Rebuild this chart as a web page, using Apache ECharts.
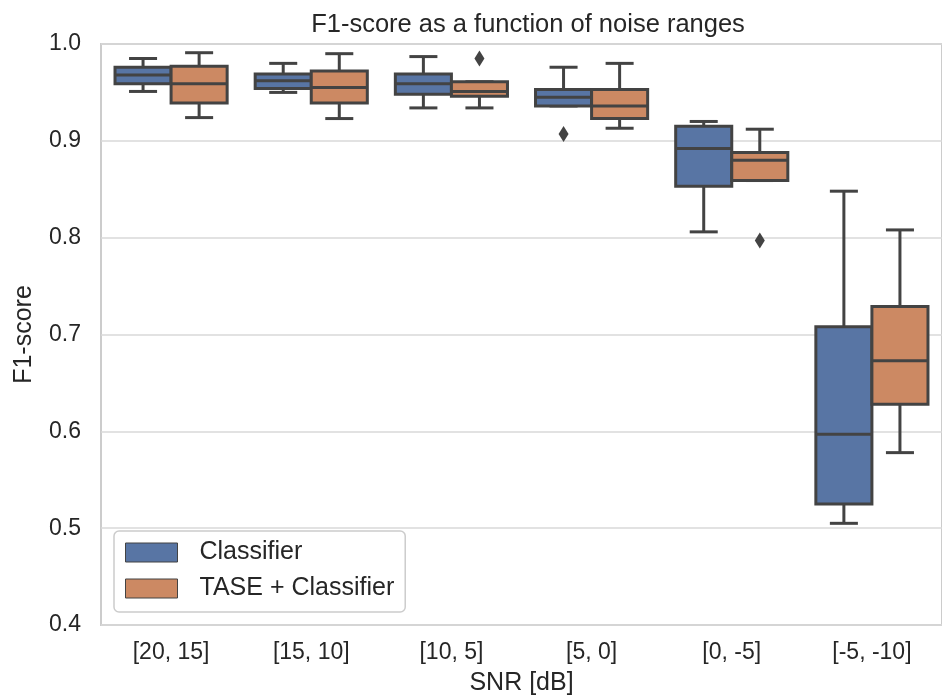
<!DOCTYPE html>
<html>
<head>
<meta charset="utf-8">
<script src="https://cdn.jsdelivr.net/npm/echarts@6/dist/echarts.min.js"></script>
<style>
  html, body { margin: 0; padding: 0; background: #fff; }
  #box { width: 942px; height: 698px; }
</style>
</head>
<body>
<div id="box"></div>
<script>
// NOTE - categories and box stats [min, q1, median, q3, max]
const ranges = ['[20, 15]', '[15, 10]', '[10, 5]', '[5, 0]', '[0, -5]', '[-5, -10]']
const classifierBoxes = [
    [0.951, 0.959, 0.968, 0.976, 0.985],
    [0.950, 0.954, 0.962, 0.969, 0.980],
    [0.934, 0.948, 0.959, 0.969, 0.987],
    [0.936, 0.936, 0.945, 0.953, 0.976],
    [0.806, 0.853, 0.892, 0.915, 0.920],
    [0.505, 0.525, 0.597, 0.708, 0.848]
]
const taseBoxes = [
    [0.924, 0.939, 0.959, 0.977, 0.991],
    [0.923, 0.939, 0.955, 0.972, 0.990],
    [0.934, 0.946, 0.951, 0.961, 0.961],
    [0.913, 0.923, 0.936, 0.953, 0.980],
    [0.859, 0.859, 0.880, 0.888, 0.912],
    [0.578, 0.628, 0.673, 0.729, 0.808]
]
// outliers: [category index, value]
const classifierOutliers = [[3, 0.907]]
const taseOutliers = [[2, 0.985], [4, 0.797]]
const yTicks = [0.4, 0.5, 0.6, 0.7, 0.8, 0.9, 1.0]

const blue = '#5875a4'
const orange = '#cc8963'
const edge = '#434343'
const font = "'Liberation Sans', Arial, sans-serif"

// NOTE - one box drawn from the axis scales
const boxRenderer = (shift, fill) => (params, api) => {
    const i = api.value(0)
    const band = api.size([1, 0])[0]
    const w = band * 0.4
    const cx = api.coord([i, 0])[0] + shift * band
    const y = k => api.coord([i, api.value(k)])[1]
    const lo = y(1), q1 = y(2), med = y(3), q3 = y(4), hi = y(5)
    const line = { stroke: edge, lineWidth: 3 }
    const cap = w / 4
    return {
        type: 'group',
        children: [
            { type: 'line', shape: { x1: cx, y1: q1, x2: cx, y2: lo }, style: line },
            { type: 'line', shape: { x1: cx, y1: q3, x2: cx, y2: hi }, style: line },
            { type: 'line', shape: { x1: cx - cap, y1: lo, x2: cx + cap, y2: lo }, style: line },
            { type: 'line', shape: { x1: cx - cap, y1: hi, x2: cx + cap, y2: hi }, style: line },
            { type: 'rect', shape: { x: cx - w / 2, y: q3, width: w, height: q1 - q3 }, style: { fill: fill, stroke: edge, lineWidth: 3 } },
            { type: 'line', shape: { x1: cx - w / 2, y1: med, x2: cx + w / 2, y2: med }, style: line }
        ]
    }
}

// NOTE - diamond outlier
const outlierRenderer = shift => (params, api) => {
    const i = api.value(0)
    const band = api.size([1, 0])[0]
    const p = api.coord([i, api.value(1)])
    const cx = p[0] + shift * band
    const cy = p[1]
    return {
        type: 'polygon',
        shape: { points: [[cx, cy - 8], [cx + 5, cy], [cx, cy + 8], [cx - 5, cy]] },
        style: { fill: edge }
    }
}

const myChart = echarts.init(document.querySelector('#box'))
const option = {
    backgroundColor: '#fff',
    animation: false,
    textStyle: { fontFamily: font },
    title: {
        text: 'F1-score as a function of noise ranges',
        left: 523,
        textAlign: 'center',
        top: 7,
        textStyle: { fontSize: 25.5, fontWeight: 'normal', color: '#262626', fontFamily: font }
    },
    grid: {
        left: 101,
        right: 0,
        top: 44,
        bottom: 73,
        outerBoundsMode: 'none',
        show: true,
        borderColor: '#cccccc',
        borderWidth: 2
    },
    legend: {
        orient: 'vertical',
        left: 114,
        top: 531,
        padding: [9, 11, 11, 11],
        itemWidth: 52,
        itemHeight: 19,
        itemGap: 11,
        borderColor: '#cccccc',
        borderWidth: 1.5,
        borderRadius: 5,
        backgroundColor: 'rgba(255,255,255,0.85)',
        textStyle: { fontSize: 25, lineHeight: 22, color: '#262626', fontFamily: font, padding: [0, 0, 0, 17] },
        data: [
            { name: 'Classifier', icon: 'rect', itemStyle: { color: blue, borderColor: edge, borderWidth: 1 } },
            { name: 'TASE + Classifier', icon: 'rect', itemStyle: { color: orange, borderColor: edge, borderWidth: 1 } }
        ]
    },
    xAxis: {
        type: 'category',
        data: ranges,
        name: 'SNR [dB]',
        nameLocation: 'middle',
        nameGap: 46,
        nameTextStyle: { fontSize: 25, color: '#262626' },
        axisLine: { show: false },
        axisTick: { show: false },
        axisLabel: { fontSize: 23, color: '#262626', margin: 16 },
        splitLine: { show: false }
    },
    yAxis: {
        type: 'value',
        min: yTicks[0],
        max: yTicks[yTicks.length - 1],
        interval: 0.1,
        name: 'F1-score',
        nameLocation: 'middle',
        nameGap: 64,
        nameTextStyle: { fontSize: 25, color: '#262626' },
        axisLine: { show: false },
        axisTick: { show: false },
        axisLabel: { fontSize: 23, color: '#262626', margin: 20, formatter: v => v.toFixed(1) },
        splitLine: { lineStyle: { color: '#d9d9d9', width: 1.5 } }
    },
    series: [
        {
            name: 'Classifier',
            type: 'custom',
            itemStyle: { color: blue },
            renderItem: boxRenderer(-0.2, blue),
            encode: { x: 0, y: [1, 2, 3, 4, 5] },
            data: classifierBoxes.map((b, i) => [i, ...b]),
            z: 3
        },
        {
            name: 'TASE + Classifier',
            type: 'custom',
            itemStyle: { color: orange },
            renderItem: boxRenderer(0.2, orange),
            encode: { x: 0, y: [1, 2, 3, 4, 5] },
            data: taseBoxes.map((b, i) => [i, ...b]),
            z: 3
        },
        {
            name: 'Classifier outliers',
            type: 'custom',
            renderItem: outlierRenderer(-0.2),
            encode: { x: 0, y: 1 },
            data: classifierOutliers,
            z: 3
        },
        {
            name: 'TASE outliers',
            type: 'custom',
            renderItem: outlierRenderer(0.2),
            encode: { x: 0, y: 1 },
            data: taseOutliers,
            z: 3
        }
    ]
}
myChart.setOption(option)
</script>
</body>
</html>
